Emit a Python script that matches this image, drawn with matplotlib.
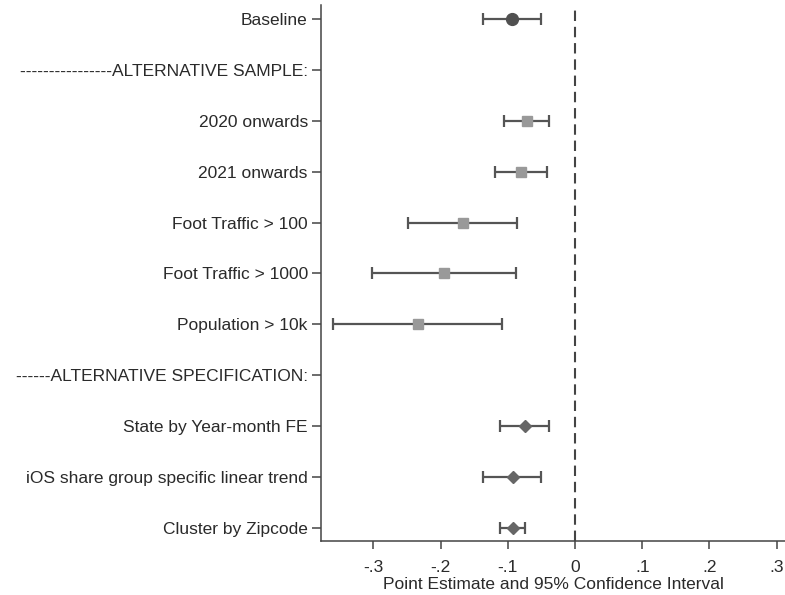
import matplotlib
matplotlib.use("Agg")
import matplotlib.pyplot as plt

plt.rcParams['font.family'] = ['Liberation Sans', 'DejaVu Sans']

labels = ["Baseline", "----------------ALTERNATIVE SAMPLE:", "2020 onwards", "2021 onwards",
          "Foot Traffic > 100", "Foot Traffic > 1000", "Population > 10k",
          "------ALTERNATIVE SPECIFICATION:", "State by Year-month FE",
          "iOS share group specific linear trend", "Cluster by Zipcode"]

# (row index, estimate, lower, upper)
baseline = [(0, -0.094, -0.1365, -0.051)]
sample_rows = [2, 3, 4, 5, 6]
sample_est = [-0.0714, -0.0804, -0.1667, -0.1954, -0.234]
sample_lo = [-0.1057, -0.1186, -0.248, -0.302, -0.360]
sample_hi = [-0.0382, -0.0421, -0.0858, -0.0883, -0.108]
spec_rows = [8, 9, 10]
spec_est = [-0.0749, -0.0928, -0.0928]
spec_lo = [-0.1116, -0.1365, -0.1116]
spec_hi = [-0.0392, -0.051, -0.0749]

xticks = [-0.3, -0.2, -0.1, 0, 0.1, 0.2, 0.3]
xticklabels = ["-.3", "-.2", "-.1", "0", ".1", ".2", ".3"]

fig = plt.figure(figsize=(7.85, 5.95), dpi=100)
ax = fig.add_axes([0.409, 0.0908, 0.591, 0.9008])

line_col = "#555555"
txt_col = "#2a2a2a"
fs = 12.5

def draw(rows, est, lo, hi, marker, mcol, ms):
    for r, e, l, h in zip(rows, est, lo, hi):
        ax.errorbar([e], [r], xerr=[[e - l], [h - e]], fmt='none', ecolor=line_col,
                    elinewidth=1.6, capsize=4, capthick=1.6, zorder=2)
    ax.plot(est, rows, linestyle='none', marker=marker, color=mcol, markersize=ms, zorder=3)

draw([b[0] for b in baseline], [b[1] for b in baseline], [b[2] for b in baseline],
     [b[3] for b in baseline], 'o', '#505050', 8.5)
draw(sample_rows, sample_est, sample_lo, sample_hi, 's', '#999999', 6.5)
draw(spec_rows, spec_est, spec_lo, spec_hi, 'D', '#666666', 6.5)

ax.axvline(0, color='#444444', lw=1.5, linestyle=(0, (5, 2.8)), zorder=1)

ax.set_xlim(-0.378, 0.3125)
ax.set_ylim(10.26, -0.28)
ax.set_yticks(range(len(labels)))
ax.set_yticklabels(labels, fontsize=fs, color=txt_col)
ax.set_xticks(xticks)
ax.set_xticklabels(xticklabels, fontsize=fs, color=txt_col)
ax.tick_params(axis='y', direction='out', length=6.5, width=1.1, color='#444444', pad=3)
ax.tick_params(axis='x', direction='out', length=5.5, width=1.1, color='#444444', pad=8.5)
for s in ['top', 'right']:
    ax.spines[s].set_visible(False)
for s in ['left', 'bottom']:
    ax.spines[s].set_color('#444444')
    ax.spines[s].set_linewidth(1.1)
ax.set_xlabel("Point Estimate and 95% Confidence Interval", fontsize=fs, color=txt_col, labelpad=1)

fig.savefig("out.png", dpi=100)
